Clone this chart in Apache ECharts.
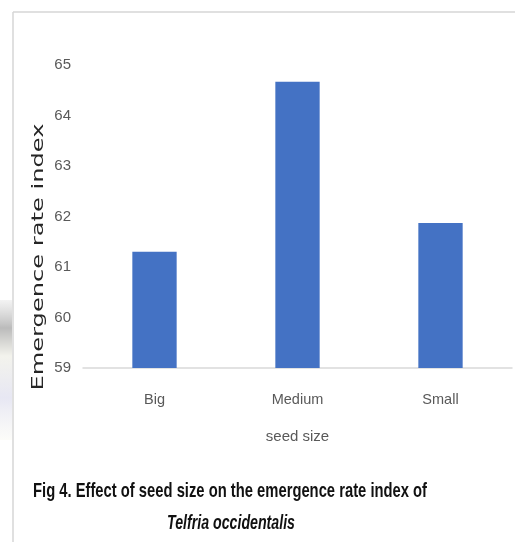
<!DOCTYPE html>
<html><head><meta charset="utf-8">
<script src="https://cdn.jsdelivr.net/npm/echarts@6/dist/echarts.min.js"></script>
<style>html,body{margin:0;padding:0;background:#fff}#c{width:515px;height:542px}</style>
</head><body><div id="c"></div>
<script>
const categories = ['Big', 'Medium', 'Small'];
const values = [61.30, 64.67, 61.87];
const yMin = 59, yMax = 65, yStep = 1;
const xAxisTitle = 'seed size';
const yAxisTitle = 'Emergence rate index';
const captionLine1 = 'Fig 4. Effect of seed size on the emergence rate index of';
const captionLine2 = 'Telfria occidentalis';

const LABEL_FONT = '"Liberation Sans", Arial, sans-serif';

function measure(text, font) {
  const ctx = document.createElement('canvas').getContext('2d');
  ctx.font = font;
  return ctx.measureText(text).width;
}

const yTitleFont = '16px "DejaVu Sans"';
const yTitleScale = 267 / measure(yAxisTitle, yTitleFont);
const cap1Font = 'bold 21px "Liberation Sans"';
const cap1Scale = 394 / measure(captionLine1, cap1Font);
const cap2Font = 'italic bold 21px "Liberation Sans"';
const cap2Scale = 128 / measure(captionLine2, cap2Font);

const chart = echarts.init(document.getElementById('c'), null, { renderer: 'canvas' });
chart.setOption({
  animation: false,
  backgroundColor: '#ffffff',
  grid: { left: 83, right: 3, top: 65, bottom: 174 },
  xAxis: {
    type: 'category',
    data: categories,
    name: xAxisTitle,
    nameLocation: 'middle',
    nameGap: 61,
    nameTextStyle: { fontFamily: LABEL_FONT, fontSize: 15, color: '#595959' },
    axisLine: { lineStyle: { color: '#d9d9d9', width: 1.5 } },
    axisTick: { show: false },
    axisLabel: { margin: 24, fontFamily: LABEL_FONT, fontSize: 14.5, color: '#595959' }
  },
  yAxis: {
    type: 'value',
    min: yMin, max: yMax, interval: yStep,
    axisLine: { show: false },
    axisTick: { show: false },
    splitLine: { show: false },
    axisLabel: { margin: 12, fontFamily: LABEL_FONT, fontSize: 15, color: '#595959' }
  },
  series: [{
    type: 'bar',
    data: values,
    barWidth: '31%',
    itemStyle: { color: '#4472C4' }
  }],
  graphic: [
    { type: 'rect', silent: true, shape: { x: 0, y: 300, width: 12, height: 140 },
      style: { fill: new echarts.graphic.LinearGradient(0, 0, 0, 1, [
        { offset: 0, color: 'rgba(235,235,235,0.6)' },
        { offset: 0.2, color: 'rgba(170,170,170,0.8)' },
        { offset: 0.4, color: 'rgba(240,240,232,0.8)' },
        { offset: 0.7, color: 'rgba(225,225,240,0.8)' },
        { offset: 1, color: 'rgba(250,250,245,0.6)' }]) } },
    { type: 'line', silent: true, shape: { x1: 13, y1: 12, x2: 515, y2: 12 },
      style: { stroke: '#d6d6d6', lineWidth: 1.5 } },
    { type: 'line', silent: true, shape: { x1: 13, y1: 12, x2: 13, y2: 542 },
      style: { stroke: '#d6d6d6', lineWidth: 1.5 } },
    { type: 'text', silent: true, x: 39, y: 257, rotation: Math.PI / 2, scaleX: yTitleScale,
      style: { text: yAxisTitle, font: yTitleFont, fill: '#262626', textAlign: 'center', textVerticalAlign: 'middle' } },
    { type: 'text', silent: true, x: 33, y: 491, scaleX: cap1Scale,
      style: { text: captionLine1, font: cap1Font, fill: '#111111', textAlign: 'left', textVerticalAlign: 'middle' } },
    { type: 'text', silent: true, x: 231, y: 523, scaleX: cap2Scale,
      style: { text: captionLine2, font: cap2Font, fill: '#111111', textAlign: 'center', textVerticalAlign: 'middle' } }
  ]
});
</script></body></html>
